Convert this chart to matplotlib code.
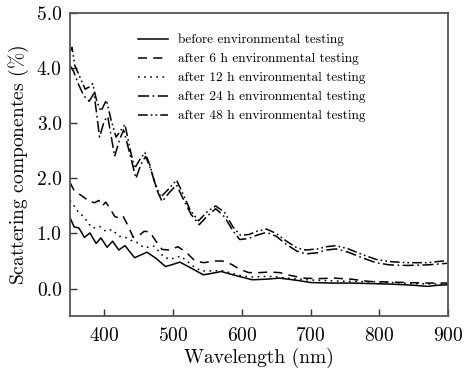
import matplotlib
matplotlib.use("Agg")
import matplotlib.pyplot as plt

plt.rcParams['font.family'] = ['cmr10', 'DejaVu Serif']
plt.rcParams['mathtext.fontset'] = 'cm'
plt.rcParams['axes.formatter.use_mathtext'] = True
plt.rcParams['lines.scale_dashes'] = False

# before environmental testing
wl0 = [350, 356, 363, 371, 379, 388, 395, 404, 412, 421, 430, 444, 462, 475, 489, 500, 510, 525, 544,
       558, 570, 590, 615, 635, 655, 680, 700, 730, 760, 790, 820, 850, 870, 885, 900]
s0 = [1.29, 1.12, 1.10, 0.93, 1.01, 0.82, 0.92, 0.75, 0.86, 0.70, 0.78, 0.56, 0.66, 0.55, 0.40, 0.44, 0.48, 0.38, 0.25,
      0.28, 0.31, 0.24, 0.16, 0.17, 0.19, 0.15, 0.11, 0.10, 0.10, 0.09, 0.08, 0.06, 0.04, 0.06, 0.07]

# after 6 h
wl6 = [350, 356, 363, 371, 378, 386, 392, 397, 402, 408, 415, 421, 427, 434, 442, 451, 458, 466, 474, 484, 495,
       507, 519, 532, 545, 558, 572, 585, 597, 610, 625, 640, 655, 670, 690, 710, 735, 760, 785, 810, 840, 870, 900]
s6 = [1.93, 1.78, 1.72, 1.65, 1.58, 1.56, 1.60, 1.50, 1.57, 1.46, 1.31, 1.28, 1.32, 1.15, 0.93, 0.97, 1.04, 1.03, 0.88, 0.71, 0.70,
      0.76, 0.66, 0.50, 0.47, 0.50, 0.50, 0.44, 0.35, 0.29, 0.29, 0.30, 0.29, 0.24, 0.19, 0.18, 0.19, 0.17, 0.13, 0.12, 0.11, 0.10, 0.10]

# after 12 h
wl12 = [350, 355, 361, 366, 371, 377, 383, 388, 393, 398, 402, 407, 412, 417, 422, 430, 436, 441, 447, 453, 460, 466,
        472, 479, 486, 495, 503, 511, 520, 530, 541, 558, 570, 585, 600, 615, 630, 645, 665, 694, 730, 760, 800, 850, 900]
s12 = [1.60, 1.52, 1.41, 1.35, 1.29, 1.18, 1.10, 1.11, 1.13, 1.08, 1.04, 1.06, 1.07, 1.00, 0.95, 0.93, 0.90, 0.86, 0.84, 0.78, 0.74, 0.76,
       0.77, 0.68, 0.58, 0.53, 0.56, 0.59, 0.50, 0.40, 0.32, 0.32, 0.33, 0.28, 0.23, 0.21, 0.22, 0.22, 0.19, 0.16, 0.14, 0.13, 0.12, 0.09, 0.08]

# after 24 h
wl24 = [350, 355, 362, 370, 378, 385, 393, 400, 405, 415, 422, 428, 436, 446, 453, 460, 468, 476, 484, 495, 505, 515, 526,
        538, 550, 562, 575, 587, 597, 610, 622, 636, 650, 665, 680, 693, 710, 723, 737, 755, 775, 795, 815, 840, 870, 900]
s24 = [4.05, 3.95, 3.72, 3.50, 3.40, 3.55, 2.75, 3.05, 3.12, 2.40, 2.70, 2.88, 2.50, 2.00, 2.25, 2.40, 2.15, 1.80, 1.58, 1.75, 1.88, 1.62, 1.35,
       1.16, 1.32, 1.45, 1.30, 1.05, 0.89, 0.91, 0.97, 1.02, 0.95, 0.80, 0.68, 0.63, 0.65, 0.70, 0.72, 0.66, 0.56, 0.47, 0.43, 0.42, 0.43, 0.46]

# after 48 h
wl48 = [350, 353, 357, 364, 372, 378, 383, 389, 395, 403, 410, 417, 430, 437, 444, 452, 459, 466, 474, 482, 493, 505, 515,
        525, 537, 550, 562, 575, 587, 598, 610, 622, 636, 650, 665, 680, 693, 710, 723, 737, 755, 775, 795, 815, 840, 870, 900]
s48 = [4.30, 4.38, 4.05, 3.85, 3.62, 3.66, 3.72, 3.40, 3.22, 3.42, 3.05, 2.75, 2.98, 2.55, 2.18, 2.35, 2.47, 2.25, 1.90, 1.66, 1.80, 1.97, 1.70,
       1.42, 1.23, 1.40, 1.50, 1.38, 1.12, 0.97, 0.98, 1.04, 1.08, 1.00, 0.86, 0.74, 0.70, 0.72, 0.76, 0.78, 0.72, 0.62, 0.53, 0.49, 0.47, 0.47, 0.51]

labels = ["before environmental testing",
          "after 6 h environmental testing",
          "after 12 h environmental testing",
          "after 24 h environmental testing",
          "after 48 h environmental testing"]

fig = plt.figure(figsize=(4.65, 3.75), dpi=100)
ax = fig.add_axes([0.1505, 0.157, 0.813, 0.808])

lw = 1.1
ax.plot(wl0, s0, color='black', lw=lw, linestyle='-', label=labels[0])
ax.plot(wl6, s6, color='black', lw=lw, linestyle=(0, (6.5, 4.5)), label=labels[1])
ax.plot(wl12, s12, color='black', lw=lw, linestyle=(0, (1.2, 3.2)), label=labels[2])
ax.plot(wl24, s24, color='black', lw=lw, linestyle=(0, (8, 2.5, 1.2, 2.5)), label=labels[3])
ax.plot(wl48, s48, color='black', lw=lw, linestyle=(0, (7, 2.2, 1.2, 2.2, 1.2, 2.2)), label=labels[4])

ax.set_xlim(350, 900)
ax.set_ylim(-0.5, 5.0)
ax.set_xticks([400, 500, 600, 700, 800, 900])
ax.set_yticks([0.0, 1.0, 2.0, 3.0, 4.0, 5.0])
ax.set_yticklabels(["0.0", "1.0", "2.0", "3.0", "4.0", "5.0"])
ax.tick_params(direction='in', length=5, width=1, labelsize=14, colors='#333333', labelcolor='black')
ax.tick_params(axis='x', pad=8)
ax.tick_params(axis='y', pad=6)
for sp in ax.spines.values():
    sp.set_linewidth(1.3)
    sp.set_color('#555555')

ax.set_xlabel("Wavelength (nm)", fontsize=14, labelpad=2)
ax.set_ylabel(r"Scattering componentes $(\%)$", fontsize=14, labelpad=4)

ax.legend(loc='upper left', bbox_to_anchor=(0.165, 0.95), frameon=False, fontsize=9.6,
          handlelength=2.3, handletextpad=0.7, labelspacing=0.5, borderaxespad=0)

fig.savefig("out.png", dpi=100)
